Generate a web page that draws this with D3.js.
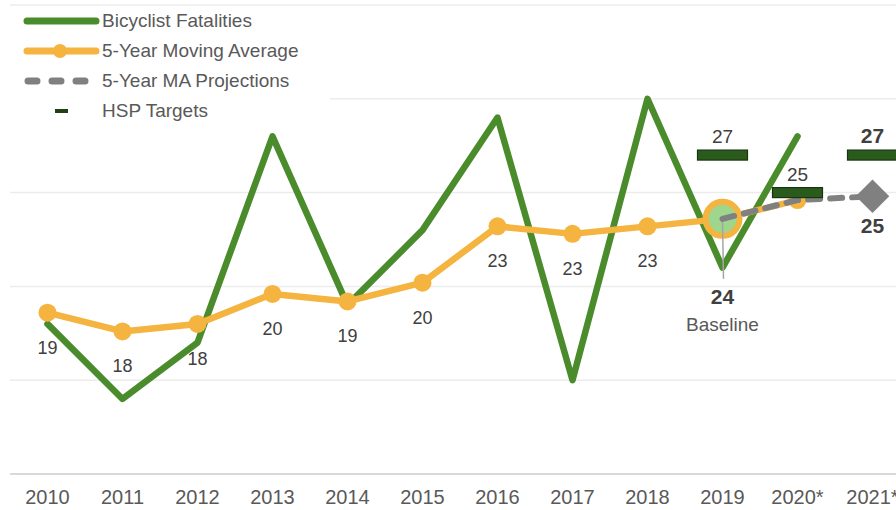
<!DOCTYPE html>
<html>
<head>
<meta charset="utf-8">
<script src="https://cdn.jsdelivr.net/npm/d3@7"></script>
<style>
  body { margin: 0; background: #fff; }
  text { font-family: "Liberation Sans", Arial, sans-serif; }
</style>
</head>
<body>
<script>
// data
const years = ["2010", "2011", "2012", "2013", "2014", "2015", "2016", "2017", "2018", "2019", "2020*", "2021*"];
const fatalities = [18, 14, 17, 28, 19, 23, 29, 15, 30, 21, 28];
const movingAvg = [18.6, 17.6, 18.0, 19.6, 19.2, 20.2, 23.2, 22.8, 23.2, 23.6, 24.6];
const maLabels = ["19", "18", "18", "20", "19", "20", "23", "23", "23"];
const projYears = ["2019", "2020*", "2021*"];
const projValues = [23.6, 24.6, 24.8];
const targetYears = ["2019", "2020*", "2021*"];
const targetValues = [27, 25, 27];
const yTicks = [15, 20, 25, 30, 35];

const width = 896;
const height = 510;

const green = "#4a8c2c";
const orange = "#f4b43f";
const gray = "#808080";

const x = d3.scaleBand()
    .domain(years)
    .range([10, 910]);
const cx = d => x(d) + x.bandwidth() / 2;

const y = d3.scaleLinear()
    .domain([10, 35])
    .range([474, 5]);

let svg = d3.select("body")
    .append("svg")
    .attr("width", width)
    .attr("height", height);

// gridlines
svg.append("g")
    .selectAll("line")
    .data(yTicks)
    .enter()
    .append("line")
    .attr("x1", 10)
    .attr("x2", width)
    .attr("y1", d => y(d))
    .attr("y2", d => y(d))
    .style("stroke", "#ececec")
    .style("stroke-width", 1.5);

// x axis
const xAxis = svg.append("g")
    .attr("transform", "translate(0," + y(10) + ")")
    .call(d3.axisBottom(x).tickSize(0).tickPadding(16));
xAxis.select(".domain")
    .attr("d", "M10,0H" + width)
    .style("stroke", "#d9d9d9")
    .style("stroke-width", 2);
xAxis.selectAll("text")
    .style("font-family", "'Liberation Sans', Arial, sans-serif")
    .style("font-size", "20px")
    .style("fill", "#595959");

// fatalities line
const line = d3.line()
    .x((d, i) => cx(years[i]))
    .y(d => y(d));

svg.append("path")
    .datum(fatalities)
    .attr("d", line)
    .style("fill", "none")
    .style("stroke", green)
    .style("stroke-width", 6.5)
    .style("stroke-linejoin", "round")
    .style("stroke-linecap", "round");

// moving average
svg.append("path")
    .datum(movingAvg)
    .attr("d", line)
    .style("fill", "none")
    .style("stroke", orange)
    .style("stroke-width", 6.5)
    .style("stroke-linejoin", "round");

svg.append("g")
    .selectAll("circle")
    .data(movingAvg)
    .enter()
    .append("circle")
    .attr("cx", (d, i) => cx(years[i]))
    .attr("cy", d => y(d))
    .attr("r", 9)
    .style("fill", orange);

// baseline circle for 2019
svg.append("circle")
    .attr("cx", cx("2019"))
    .attr("cy", y(movingAvg[9]))
    .attr("r", 17)
    .style("fill", "#9dd68c")
    .style("stroke", orange)
    .style("stroke-width", 6);

// leader line
svg.append("line")
    .attr("x1", cx("2019"))
    .attr("x2", cx("2019") + 1)
    .attr("y1", y(movingAvg[9]))
    .attr("y2", y(movingAvg[9]) + 60)
    .style("stroke", "#a6a6a6")
    .style("stroke-width", 1.5);

// MA labels
svg.append("g")
    .selectAll("text")
    .data(maLabels)
    .enter()
    .append("text")
    .attr("x", (d, i) => cx(years[i]))
    .attr("y", (d, i) => y(movingAvg[i]) + 41)
    .attr("text-anchor", "middle")
    .style("font-size", "18px")
    .style("fill", "#404040")
    .text(d => d);

// projections
const projLine = d3.line()
    .x((d, i) => cx(projYears[i]))
    .y(d => y(d));

svg.append("path")
    .datum(projValues)
    .attr("d", projLine)
    .style("fill", "none")
    .style("stroke", gray)
    .style("stroke-width", 6)
    .style("stroke-dasharray", "12,10")
    .style("stroke-linecap", "round");

// projection diamond
const dLast = projValues[projValues.length - 1];
svg.append("path")
    .attr("d", d3.symbol().type(d3.symbolSquare).size(560)())
    .attr("transform", "translate(" + cx("2021*") + "," + y(dLast) + ") rotate(45)")
    .style("fill", gray);

svg.append("text")
    .attr("x", cx("2021*"))
    .attr("y", y(dLast) + 37)
    .attr("text-anchor", "middle")
    .style("font-size", "21px")
    .style("font-weight", "bold")
    .style("fill", "#404040")
    .text(Math.round(dLast));

// HSP targets
svg.append("g")
    .selectAll("rect")
    .data(targetValues)
    .enter()
    .append("rect")
    .attr("x", (d, i) => cx(targetYears[i]) - 25)
    .attr("y", d => y(d) - 5)
    .attr("width", 50)
    .attr("height", 10)
    .style("fill", "#2b5a1d")
    .style("stroke", "#173510")
    .style("stroke-width", 1.2);

svg.append("g")
    .selectAll("text")
    .data(targetValues)
    .enter()
    .append("text")
    .attr("x", (d, i) => cx(targetYears[i]))
    .attr("y", d => y(d) - 12)
    .attr("text-anchor", "middle")
    .style("font-size", (d, i) => i === 2 ? "21px" : "19px")
    .style("font-weight", (d, i) => i === 2 ? "bold" : "normal")
    .style("fill", "#404040")
    .text(d => d);

// baseline label
svg.append("text")
    .attr("x", cx("2019"))
    .attr("y", 304)
    .attr("text-anchor", "middle")
    .style("font-size", "21px")
    .style("font-weight", "bold")
    .style("fill", "#404040")
    .text(Math.round(movingAvg[9]));

svg.append("text")
    .attr("x", cx("2019"))
    .attr("y", 331)
    .attr("text-anchor", "middle")
    .style("font-size", "19px")
    .style("fill", "#595959")
    .text("Baseline");

// legend
const legend = svg.append("g");
legend.append("rect")
    .attr("x", 0)
    .attr("y", 9)
    .attr("width", 330)
    .attr("height", 118)
    .style("fill", "#fff");

const legendItems = ["Bicyclist Fatalities", "5-Year Moving Average", "5-Year MA Projections", "HSP Targets"];
const ly = i => 21 + i * 30;

legend.append("line")
    .attr("x1", 27).attr("x2", 96)
    .attr("y1", ly(0)).attr("y2", ly(0))
    .style("stroke", green).style("stroke-width", 7).style("stroke-linecap", "round");
legend.append("line")
    .attr("x1", 27).attr("x2", 96)
    .attr("y1", ly(1)).attr("y2", ly(1))
    .style("stroke", orange).style("stroke-width", 7).style("stroke-linecap", "round");
legend.append("circle")
    .attr("cx", 60).attr("cy", ly(1)).attr("r", 7)
    .style("fill", orange);
legend.append("line")
    .attr("x1", 28).attr("x2", 96)
    .attr("y1", ly(2)).attr("y2", ly(2))
    .style("stroke", gray).style("stroke-width", 7)
    .style("stroke-dasharray", "9,15").style("stroke-linecap", "round");
legend.append("rect")
    .attr("x", 55).attr("y", ly(3) - 2).attr("width", 13).attr("height", 4)
    .style("fill", "#1f3f15");

legend.selectAll("text")
    .data(legendItems)
    .enter()
    .append("text")
    .attr("x", 102)
    .attr("y", (d, i) => ly(i) + 6)
    .style("font-size", "19px")
    .style("fill", "#595959")
    .text(d => d);
</script>
</body>
</html>
